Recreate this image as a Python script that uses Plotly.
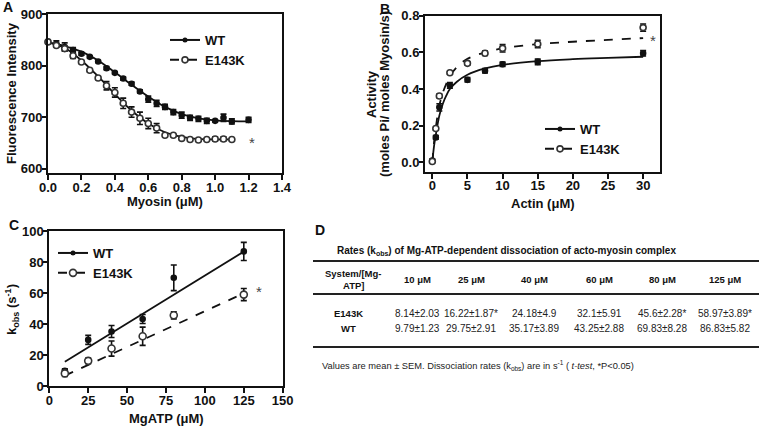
import plotly.graph_objects as go

# ---------------- Panel A data ----------------
a_wt_x = [0, 0.05, 0.1, 0.15, 0.2, 0.25, 0.3, 0.35, 0.4, 0.45, 0.5, 0.55, 0.6, 0.65, 0.7, 0.75,
          0.8, 0.85, 0.9, 0.95, 1.0, 1.05, 1.1, 1.2]
a_wt_y = [846, 842, 836, 830, 823, 817, 808, 795, 786, 775, 765, 750, 735, 727, 720, 710,
          704, 699, 697, 693, 693, 699, 692, 695]
a_wt_err = [3, 6, 8, 5, 3, 2, 2, 3, 2, 3, 3, 3, 6, 6, 5, 5, 6, 5, 5, 5, 2, 7, 5, 5]
a_mut_x = [0, 0.05, 0.1, 0.15, 0.2, 0.25, 0.3, 0.35, 0.4, 0.45, 0.5, 0.55, 0.6, 0.65, 0.7, 0.75,
           0.8, 0.85, 0.9, 0.95, 1.0, 1.05, 1.1]
a_mut_y = [846, 839, 833, 819, 807, 791, 776, 761, 748, 727, 710, 698, 688, 679, 665, 665,
           659, 657, 656, 657, 658, 658, 657]
a_mut_err = [3, 3, 4, 5, 3, 3, 3, 8, 9, 10, 10, 12, 10, 9, 2, 2, 2, 2, 2, 2, 4, 4, 2]
a_fit_x = [0, 0.1, 0.2, 0.3, 0.4, 0.5, 0.6, 0.7, 0.8, 0.9, 1.0, 1.1, 1.2]
a_fit_wt = [845, 838, 827, 810, 787, 763, 740, 720, 706, 698, 694, 692.5, 692]
a_fit_mut_x = [0, 0.1, 0.2, 0.3, 0.4, 0.5, 0.6, 0.7, 0.8, 0.9, 1.0, 1.1]
a_fit_mut = [845, 834, 810, 779, 745, 713, 688, 671, 662, 658, 657, 657]

# ---------------- Panel B data ----------------
b_x = [0, 0.5, 1, 2.5, 5, 7.5, 10, 15, 30]
b_wt = [0.01, 0.136, 0.30, 0.42, 0.45, 0.50, 0.535, 0.548, 0.595]
b_wt_err = [0.008, 0.01, 0.02, 0.015, 0.012, 0.012, 0.012, 0.015, 0.015]
b_mut = [0.005, 0.185, 0.362, 0.489, 0.54, 0.595, 0.622, 0.646, 0.735]
b_mut_err = [0.005, 0.008, 0.01, 0.008, 0.008, 0.012, 0.02, 0.02, 0.02]
b_fit_x = [0, 0.25, 0.5, 1, 1.5, 2, 2.5, 3.5, 5, 7.5, 10, 15, 20, 25, 30]
b_fit_wt = [0, 0.09, 0.15, 0.255, 0.32, 0.365, 0.40, 0.44, 0.478, 0.512, 0.532, 0.552, 0.563, 0.570, 0.576]
b_fit_mut = [0, 0.11, 0.19, 0.31, 0.38, 0.43, 0.47, 0.52, 0.565, 0.60, 0.622, 0.645, 0.658, 0.668, 0.678]

# ---------------- Panel C / D data ----------------
atp_conc = [10, 25, 40, 60, 80, 125]
c_mut_mean = [8.14, 16.22, 24.18, 32.1, 45.6, 58.97]
c_mut_sem = [2.03, 1.87, 4.9, 5.91, 2.28, 3.89]
c_mut_sig = [False, True, False, False, True, True]
c_wt_mean = [9.79, 29.75, 35.17, 43.25, 69.83, 86.83]
c_wt_sem = [1.23, 2.91, 3.89, 2.88, 8.28, 5.82]
c_fit_x = [10, 125]
c_fit_wt = [15.7, 86.7]
c_fit_mut = [6.7, 59.8]

table_title = "<b>Rates (k<sub>obs</sub>) of Mg-ATP-dependent dissociation of acto-myosin complex</b>"
table_rows = ["E143K", "WT"]
table_note = ("Values are mean ± SEM. Dissociation rates (k<sub>obs</sub>) are in s<sup>-1</sup> "
              "( <i>t-test</i>, *P<0.05)")

W, H = 759, 426
FONT = "Liberation Sans, Arial, sans-serif"
BLACK = "#111111"
MUT = "#333333"


def px(x):
    return x / W


def py(y):
    return 1 - y / H


fig = go.Figure()


def add_panel(xs, ys, errs, xa, ya, filled, size):
    fig.add_trace(go.Scatter(
        x=xs, y=ys, mode="markers", xaxis=xa, yaxis=ya, showlegend=False, cliponaxis=False,
        error_y=dict(type="data", array=errs, visible=True, color=BLACK, thickness=1.6, width=3),
        marker=dict(size=size, color=BLACK if filled else "white", symbol="circle",
                    line=dict(color=BLACK if filled else MUT, width=1.6))))


def add_fit(xs, ys, xa, ya, dash, shape):
    fig.add_trace(go.Scatter(x=xs, y=ys, mode="lines", xaxis=xa, yaxis=ya, showlegend=False,
                             line=dict(color=BLACK, width=1.8, dash=dash, shape=shape)))


def add_legend(leg, size_wt, size_mut):
    fig.add_trace(go.Scatter(x=[None], y=[None], mode="lines+markers", name="WT", legend=leg,
                             line=dict(color=BLACK, width=2),
                             marker=dict(size=size_wt, color=BLACK)))
    fig.add_trace(go.Scatter(x=[None], y=[None], mode="lines+markers", name="E143K", legend=leg,
                             line=dict(color=BLACK, width=2, dash="dash"),
                             marker=dict(size=size_mut, color="white", line=dict(color=MUT, width=1.6))))


# Panel A
add_fit(a_fit_x, a_fit_wt, "x", "y", "solid", "spline")
add_fit(a_fit_mut_x, a_fit_mut, "x", "y", "solid", "spline")
add_panel(a_wt_x, a_wt_y, a_wt_err, "x", "y", True, 5)
add_panel(a_mut_x, a_mut_y, a_mut_err, "x", "y", False, 6)
add_legend("legend", 5, 6)

# Panel B
add_fit(b_fit_x, b_fit_wt, "x2", "y2", "solid", "spline")
add_fit(b_fit_x, b_fit_mut, "x2", "y2", "dash", "spline")
add_panel(b_x, b_wt, b_wt_err, "x2", "y2", True, 5)
add_panel(b_x, b_mut, b_mut_err, "x2", "y2", False, 6)
add_legend("legend2", 5, 6)

# Panel C
add_fit(c_fit_x, c_fit_wt, "x3", "y3", "solid", "linear")
add_fit(c_fit_x, c_fit_mut, "x3", "y3", "dash", "linear")
add_panel(atp_conc, c_wt_mean, c_wt_sem, "x3", "y3", True, 5)
add_panel(atp_conc, c_mut_mean, c_mut_sem, "x3", "y3", False, 7)
add_legend("legend3", 5, 7)

axis_common = dict(showline=True, linewidth=2, linecolor=BLACK, mirror=True, ticks="outside",
                   tickwidth=1.6, tickcolor=BLACK, showgrid=False, zeroline=False,
                   automargin=False,
                   tickfont=dict(family=FONT, size=13, color=BLACK, weight="bold"))
xcommon = dict(ticklen=5, ticklabelstandoff=-4, **axis_common)
ycommon = dict(ticklen=4, ticklabelstandoff=-3, **axis_common)

fig.update_layout(
    width=W, height=H, autosize=False, margin=dict(l=0, r=0, t=0, b=0, pad=0, autoexpand=False),
    paper_bgcolor="white", plot_bgcolor="white",
    font=dict(family=FONT, color=BLACK),
    xaxis=dict(domain=[px(48), px(282)], range=[0, 1.4], tick0=0, dtick=0.2, tickformat=".1f",
               anchor="y", **xcommon),
    yaxis=dict(domain=[py(173), py(14)], range=[592, 900], tick0=600, dtick=100,
               anchor="x", **ycommon),
    xaxis2=dict(domain=[px(425), px(660)], range=[-1.04, 32.4], tick0=0, dtick=5,
                anchor="y2", **xcommon),
    yaxis2=dict(domain=[py(171.7), py(15.7)], range=[-0.051, 0.8], tick0=0, dtick=0.2,
                tickformat=".1f", anchor="x2", **ycommon),
    xaxis3=dict(domain=[px(49.3), px(282.7)], range=[0, 150], tick0=0, dtick=25,
                anchor="y3", **xcommon),
    yaxis3=dict(domain=[py(386), py(231)], range=[0, 100], tick0=0, dtick=20,
                anchor="x3", **ycommon),
)

leg_common = dict(font=dict(family=FONT, size=13, color=BLACK, weight="bold"),
                  bgcolor="rgba(0,0,0,0)", itemwidth=30, tracegroupgap=0,
                  xanchor="left", yanchor="top")
fig.update_layout(
    legend=dict(x=px(165), y=py(25), **leg_common),
    legend2=dict(x=px(540), y=py(114), **leg_common),
    legend3=dict(x=px(53), y=py(238), **leg_common),
)

annotations = []


def ann(text, x, y, size, bold=True, angle=0, xanchor="center", yanchor="middle", color=BLACK,
        xref="paper", yref="paper"):
    annotations.append(dict(
        text=text, x=px(x) if xref == "paper" else x, y=py(y) if yref == "paper" else y,
        xref=xref, yref=yref, showarrow=False, textangle=angle, xanchor=xanchor, yanchor=yanchor,
        font=dict(family=FONT, size=size, color=color, weight="bold" if bold else "normal")))


# Panel letters
ann("A", 1, 7, 14, xanchor="left")
ann("B", 378, 9, 14, xanchor="left")
ann("C", 7, 225, 14, xanchor="left")
ann("D", 313, 230, 14, xanchor="left")

# Axis titles
ann("Fluorescence Intensity", 12, 93, 13, angle=-90)
ann("Myosin (μM)", 165, 201, 13)
ann("Activity", 372, 94, 13, angle=-90)
ann("(moles Pi/ moles Myosin/s)", 385, 94, 13, angle=-90)
ann("Actin (μM)", 543, 203, 13)
ann("k<sub>obs</sub> (s<sup>-1</sup>)", 12, 310, 13, angle=-90)
ann("MgATP (μM)", 166, 418, 13)

# Significance asterisks
ann("*", 1.22, 652, 15, bold=False, color="#444444", xref="x", yref="y")
ann("*", 31.4, 0.665, 15, bold=False, color="#444444", xref="x2", yref="y2")
ann("*", 135, 61, 15, bold=False, color="#444444", xref="x3", yref="y3")

# Table D
col_x = [417, 471, 534, 599, 662, 725]
ann(table_title, 506, 251, 10, bold=False)
ann("System/[Mg-", 353, 273, 9.5)
ann("ATP]", 353, 285, 9.5)
for cx, c in zip(col_x, atp_conc):
    ann(f"{c} μM", cx, 279, 9.5)
row_y = [313, 328]
ann(table_rows[0], 348, row_y[0], 9.5)
ann(table_rows[1], 348, row_y[1], 9.5)
for cx, m, s, sig in zip(col_x, c_mut_mean, c_mut_sem, c_mut_sig):
    ann(f"{m:g}±{s:g}" + ("*" if sig else ""), cx, row_y[0], 10, bold=False, color="#222222")
for cx, m, s in zip(col_x, c_wt_mean, c_wt_sem):
    ann(f"{m:g}±{s:g}", cx, row_y[1], 10, bold=False, color="#222222")
ann(table_note, 320, 365, 9.3, bold=False, xanchor="left", color="#222222")

shapes = []
for yy in [261, 294, 347]:
    shapes.append(dict(type="line", xref="paper", yref="paper", x0=px(313), x1=px(759),
                       y0=py(yy), y1=py(yy), line=dict(color="#222222", width=2)))

fig.update_layout(annotations=annotations, shapes=shapes)
fig.write_html("out.html", config={"displayModeBar": False},
               post_script="document.body.style.margin='0px';document.body.style.overflow='hidden';")
